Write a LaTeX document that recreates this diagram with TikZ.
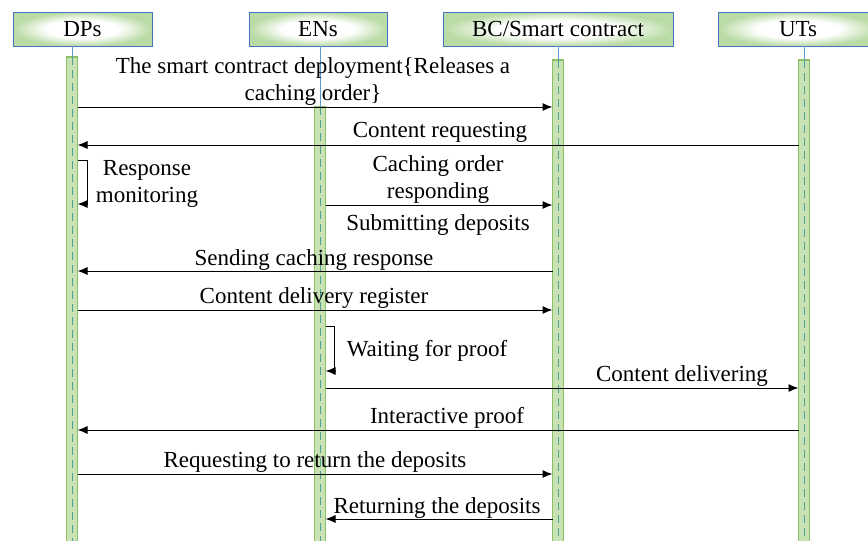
\documentclass[tikz,border=0pt]{standalone}
\usepackage{fontspec}
\setmainfont{Liberation Serif}
\usetikzlibrary{arrows.meta}

\definecolor{hdrgreen}{RGB}{186,219,165}
\definecolor{hdrborder}{RGB}{68,114,196}
\definecolor{barfill}{RGB}{200,226,180}
\definecolor{barborder}{RGB}{140,192,100}
\definecolor{dashcol}{RGB}{80,160,150}
\definecolor{stubcol}{RGB}{91,155,213}

% soft glow for the header boxes: white centre, green rim
\pgfdeclareradialshading{hdrglow}{\pgfpointorigin}{%
  color(0bp)=(white); color(13bp)=(white); color(25bp)=(hdrgreen); color(50bp)=(hdrgreen)}

\begin{document}
\begin{tikzpicture}[x=1pt,y=-1pt,
  every node/.style={font=\fontsize{23pt}{27pt}\selectfont, inner sep=0pt},
  header/.style={draw=hdrborder, line width=0.8pt, shade, shading=hdrglow,
                 minimum height=34pt},
  bar/.style={draw=barborder, fill=barfill, line width=1.2pt, minimum width=11pt,
              outer sep=0pt, anchor=north},
  lifedash/.style={draw=dashcol, line width=0.7pt, dash pattern=on 8pt off 5pt},
  stub/.style={draw=stubcol, line width=0.8pt},
  msg/.style={draw=black, line width=1pt, -{Latex[length=10pt,width=8pt]}},
  lbl/.style={anchor=base, align=center},
]
\useasboundingbox (0,0) rectangle (868,541);

% participants
\node[header, minimum width=139pt] (dps) at (82.5,29) {DPs};
\node[header, minimum width=138pt] (ens) at (318,29) {ENs};
\node[header, minimum width=230pt] (bc)  at (558,29) {BC/Smart contract};
\node[header, minimum width=160pt] (uts) at (798,29) {UTs};

% activation bars
\node[bar, minimum height=490pt] (dpsbar) at (72,57)  {};
\node[bar, minimum height=440pt] (ensbar) at (320,107) {};
\node[bar, minimum height=487pt] (bcbar)  at (558,60) {};
\node[bar, minimum height=487pt] (utsbar) at (804,60) {};

% lifelines
\foreach \p/\b in {dps/dpsbar, ens/ensbar, bc/bcbar, uts/utsbar}{
  \draw[stub] (\b.north |- \p.south) -- (\b.north);
  \draw[lifedash] (\b.north) -- (\b.south);
}

% message levels
\coordinate (m1) at (0,107);
\coordinate (m2) at (0,145);
\coordinate (s1a) at (0,160);
\coordinate (s1b) at (0,204);
\coordinate (m3) at (0,205);
\coordinate (m4) at (0,271);
\coordinate (m5) at (0,310);
\coordinate (s2a) at (0,326);
\coordinate (s2b) at (0,371);
\coordinate (m6) at (0,388);
\coordinate (m7) at (0,430);
\coordinate (m8) at (0,474);
\coordinate (m9) at (0,519);

% messages
\draw[msg] (dpsbar.east |- m1) -- (bcbar.west |- m1);
\draw[msg] (utsbar.west |- m2) -- (dpsbar.east |- m2);
\draw[msg] (dpsbar.east |- s1a) -- ++(10,0) |- (dpsbar.east |- s1b);
\draw[msg] (ensbar.east |- m3) -- (bcbar.west |- m3);
\draw[msg] (bcbar.west |- m4) -- (dpsbar.east |- m4);
\draw[msg] (dpsbar.east |- m5) -- (bcbar.west |- m5);
\draw[msg] (ensbar.east |- s2a) -- ++(9,0) |- (ensbar.east |- s2b);
\draw[msg] (ensbar.east |- m6) -- (utsbar.west |- m6);
\draw[msg] (utsbar.west |- m7) -- (dpsbar.east |- m7);
\draw[msg] (dpsbar.east |- m8) -- (bcbar.west |- m8);
\draw[msg] (bcbar.west |- m9) -- (ensbar.east |- m9);

% message labels (base = baseline of the last line)
\node[lbl] (t1) at (313,100) {The smart contract deployment\{Releases a\\caching order\}};
\node[lbl] (t2) at (440,137) {Content requesting};
\node[lbl] (t3) at (147,202) {Response\\monitoring};
\node[lbl] (t4) at (438,198) {Caching order\\responding};
\node[lbl] (t5) at (438,230) {Submitting deposits};
\node[lbl] (t6) at (314,265) {Sending caching response};
\node[lbl] (t7) at (314,303) {Content delivery register};
\node[lbl] (t8) at (427,356) {Waiting for proof};
\node[lbl] (t9) at (682,381) {Content delivering};
\node[lbl] (t10) at (447,423) {Interactive proof};
\node[lbl] (t11) at (315,467) {Requesting to return the deposits};
\node[lbl] (t12) at (437,513) {Returning the deposits};
\end{tikzpicture}
\end{document}
